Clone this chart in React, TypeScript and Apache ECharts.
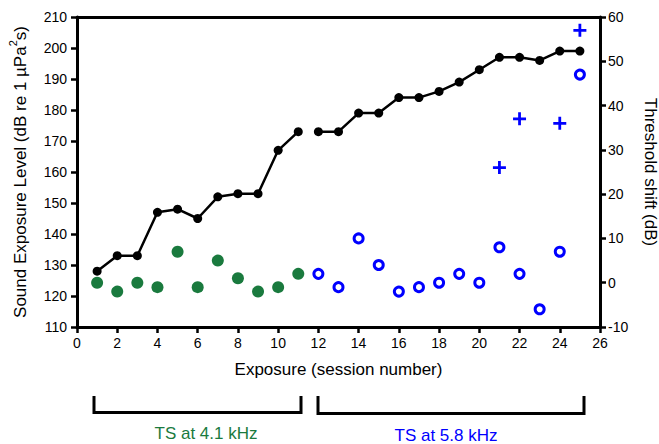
import React, { useEffect, useRef } from "react";
import * as echarts from "echarts";

// Sessions at 4.1 kHz (1-11) and 5.8 kHz (12-25)
const sessions41 = [1, 2, 3, 4, 5, 6, 7, 8, 9, 10, 11];
const sel41 = [128, 133, 133, 147, 148, 145, 152, 153, 153, 167, 173];
const ts41 = [0, -2, 0, -1, 7, -1, 5, 1, -2, -1, 2];

const sessions58 = [12, 13, 14, 15, 16, 17, 18, 19, 20, 21, 22, 23, 24, 25];
const sel58 = [173, 173, 179, 179, 184, 184, 186, 189, 193, 197, 197, 196, 199, 199];
const ts58 = [2, -1, 10, 4, -2, -1, 0, 2, 0, 8, 2, -6, 7, 47];

const plusSessions = [21, 22, 24, 25];
const plusTS = [26, 37, 36, 57];

const FONT = "'Liberation Sans', Arial, Helvetica, sans-serif";
const GREEN = "#1a7a3e";
const BLUE = "#0000ff";
const PLUS = "path://M5.5,0H8.5V5.5H14V8.5H8.5V14H5.5V8.5H0V5.5H5.5Z";

const pairs = (xs: number[], ys: number[]) => xs.map((x, i) => [x, ys[i]]);

export default function App() {
  const ref = useRef<HTMLDivElement>(null);
  useEffect(() => {
    if (!ref.current) return;
    const chart = echarts.init(ref.current, null, { renderer: "svg" });
    const axisLine = { show: true, onZero: false, lineStyle: { color: "#000", width: 3 } };
    const axisTick = { show: true, length: 6, lineStyle: { color: "#000", width: 2.5 } };
    const axisLabel = { color: "#000", fontSize: 14, fontFamily: FONT };
    chart.setOption({
      animation: false,
      textStyle: { fontFamily: FONT },
      grid: {
        left: 77,
        right: 59,
        top: 17,
        bottom: 117,
        containLabel: false,
        outerBoundsMode: "none",
      },
      xAxis: [
        {
          type: "value",
          min: 0,
          max: 26,
          interval: 2,
          position: "bottom",
          axisLine,
          axisTick,
          axisLabel: { ...axisLabel, margin: 9 },
          splitLine: { show: false },
          name: "Exposure (session number)",
          nameLocation: "middle",
          nameGap: 34,
          nameTextStyle: { color: "#000", fontSize: 17, fontFamily: FONT },
        },
        {
          type: "value",
          min: 0,
          max: 26,
          position: "top",
          axisLine,
          axisTick: { show: false },
          axisLabel: { show: false },
          splitLine: { show: false },
        },
      ],
      yAxis: [
        {
          type: "value",
          min: 110,
          max: 210,
          interval: 10,
          position: "left",
          axisLine,
          axisTick,
          axisLabel: { ...axisLabel, margin: 10 },
          splitLine: { show: false },
          name: "Sound Exposure Level (dB re 1 µPa{sup|2}s)",
          nameLocation: "middle",
          nameGap: 44,
          nameRotate: 90,
          nameTextStyle: {
            color: "#000",
            fontSize: 17,
            fontFamily: FONT,
            rich: {
              sup: { fontSize: 11, color: "#000", fontFamily: FONT, verticalAlign: "top", lineHeight: 26 },
            },
          },
        },
        {
          type: "value",
          min: -10,
          max: 60,
          interval: 10,
          position: "right",
          axisLine,
          axisTick,
          axisLabel: { ...axisLabel, margin: 8 },
          splitLine: { show: false },
          name: "Threshold shift (dB)",
          nameLocation: "middle",
          nameGap: 42,
          nameRotate: -90,
          nameTextStyle: { color: "#000", fontSize: 17, fontFamily: FONT },
        },
      ],
      series: [
        {
          type: "line",
          name: "SEL 4.1",
          data: pairs(sessions41, sel41),
          xAxisIndex: 0,
          yAxisIndex: 0,
          symbol: "circle",
          symbolSize: 9,
          itemStyle: { color: "#000" },
          lineStyle: { color: "#000", width: 2.5 },
          z: 3,
        },
        {
          type: "line",
          name: "SEL 5.8",
          data: pairs(sessions58, sel58),
          xAxisIndex: 0,
          yAxisIndex: 0,
          symbol: "circle",
          symbolSize: 9,
          itemStyle: { color: "#000" },
          lineStyle: { color: "#000", width: 2.5 },
          z: 3,
        },
        {
          type: "scatter",
          name: "TS 4.1",
          data: pairs(sessions41, ts41),
          xAxisIndex: 0,
          yAxisIndex: 1,
          symbol: "circle",
          symbolSize: 12,
          itemStyle: { color: GREEN, opacity: 1 },
        },
        {
          type: "scatter",
          name: "TS 5.8",
          data: pairs(sessions58, ts58),
          xAxisIndex: 0,
          yAxisIndex: 1,
          symbol: "circle",
          symbolSize: 9,
          itemStyle: { color: "#fff", borderColor: BLUE, borderWidth: 3, opacity: 1 },
        },
        {
          type: "scatter",
          name: "TS plus",
          data: pairs(plusSessions, plusTS),
          xAxisIndex: 0,
          yAxisIndex: 1,
          symbol: PLUS,
          symbolSize: 13,
          itemStyle: { color: BLUE, opacity: 1 },
        },
      ],
      graphic: [
        {
          type: "polyline",
          shape: { points: [[94, 396], [94, 412.5], [301, 412.5], [301, 396]] },
          style: { stroke: "#000", lineWidth: 3, fill: null },
        },
        {
          type: "polyline",
          shape: { points: [[318, 396], [318, 413.5], [584, 413.5], [584, 396]] },
          style: { stroke: "#000", lineWidth: 3, fill: null },
        },
        {
          type: "text",
          x: 206,
          y: 433,
          style: {
            text: "TS at 4.1 kHz",
            fill: GREEN,
            fontSize: 17,
            fontFamily: FONT,
            align: "center",
            verticalAlign: "middle",
          },
        },
        {
          type: "text",
          x: 446,
          y: 435,
          style: {
            text: "TS at 5.8 kHz",
            fill: BLUE,
            fontSize: 17,
            fontFamily: FONT,
            align: "center",
            verticalAlign: "middle",
          },
        },
      ],
    });
    return () => chart.dispose();
  }, []);
  return (
    <div
      ref={ref}
      style={{ position: "fixed", left: 0, top: 0, width: 659, height: 444, background: "#fff" }}
    />
  );
}
